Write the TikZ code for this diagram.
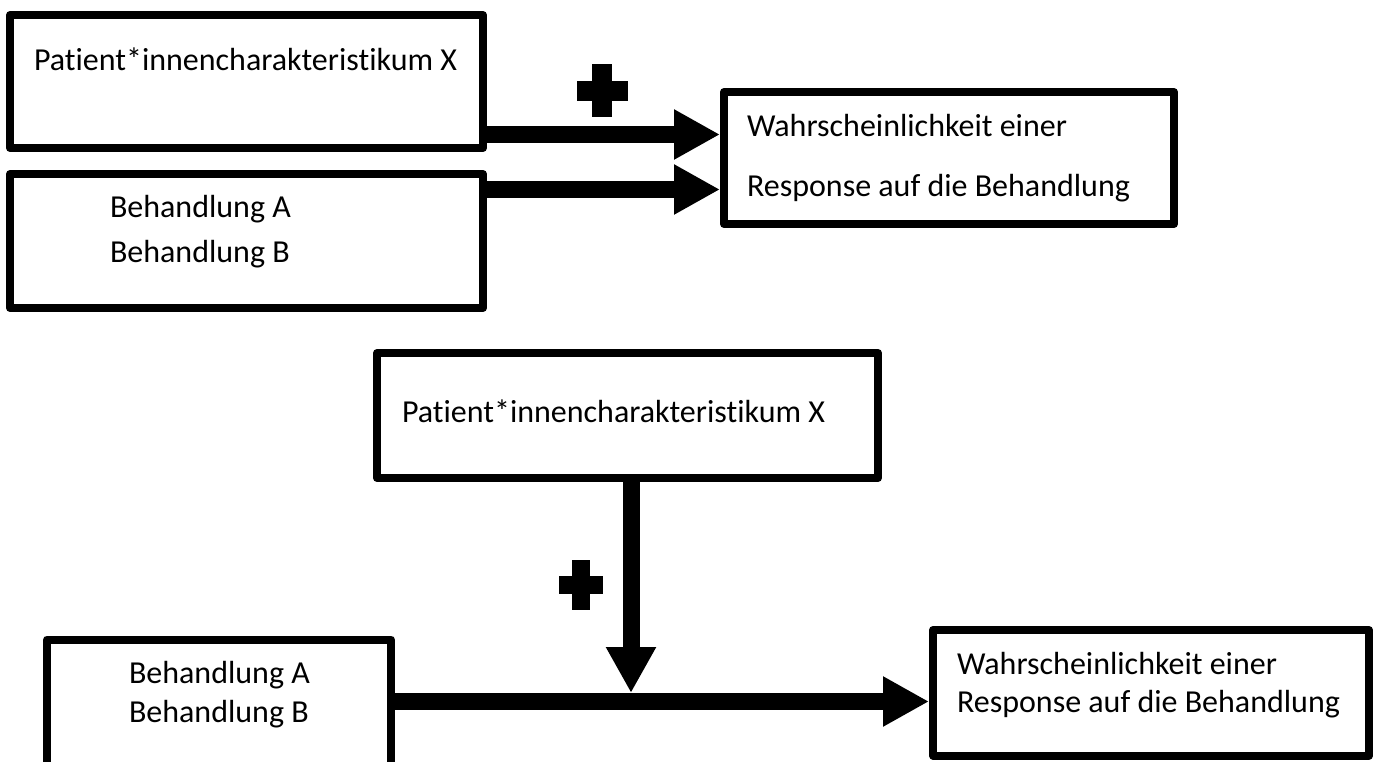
\documentclass[tikz,border=0pt]{standalone}
\usepackage{fontspec}
\setmainfont{Carlito}[Ligatures=NoCommon]
\usetikzlibrary{arrows.meta}
\begin{document}
\begin{tikzpicture}[x=0.75pt,y=-0.75pt,
  box/.style={draw=black, fill=white, line width=6pt, line join=round,
    rectangle, inner sep=0pt, outer sep=3pt},
  txt/.style={anchor=base west, inner sep=0pt, outer sep=0pt,
    font=\fontsize{24pt}{28pt}\selectfont},
  conn/.style={line width=12.75pt, -{Triangle[width=35.25pt,length=34.5pt]}},
  plusmark/.style={fill=black}]

\useasboundingbox (0,0) rectangle (1377,762);
\clip (0,0) rectangle (1377,762);

% ---------- upper model: two separate effects ----------
\node[box, minimum width=354.75pt, minimum height=99.75pt] (charA) at (246.5,81.5) {};
\node[box, minimum width=354.75pt, minimum height=100.5pt] (treatA) at (246.5,241) {};
\node[box, minimum width=337.5pt, minimum height=99pt] (respA) at (949,158) {};

\node[txt] (charAtxt) at (34,71) {Patient*innencharakteristikum X};
\node[txt] (treatAa) at (110,218) {Behandlung A};
\node[txt] (treatAb) at (110,263) {Behandlung B};
\node[txt] (respAa) at (747,137) {Wahrscheinlichkeit einer};
\node[txt] (respAb) at (747,197) {Response auf die Behandlung};

\coordinate (rowA1) at (0,134.5);
\coordinate (rowA2) at (0,189.5);
\draw[conn] (charA.east |- rowA1) -- (respA.west |- rowA1);
\draw[conn] (treatA.east |- rowA2) -- (respA.west |- rowA2);

% plus sign above the upper arrows
\fill[plusmark] (592,64) rectangle (612,117);
\fill[plusmark] (577,81) rectangle (628,101);

% ---------- lower model: moderation ----------
\node[box, minimum width=375.75pt, minimum height=93.75pt] (charB) at (627.5,415.5) {};
\node[box, minimum width=258pt, minimum height=112.875pt] (treatB) at (219,714.75) {};
\node[box, minimum width=327pt, minimum height=94.125pt] (respB) at (1151,692.75) {};

\node[txt] (charBtxt) at (402,423) {Patient*innencharakteristikum X};
\node[txt] (treatBa) at (129,683) {Behandlung A};
\node[txt] (treatBb) at (129,722) {Behandlung B};
\node[txt] (respBa) at (957,674) {Wahrscheinlichkeit einer};
\node[txt] (respBb) at (957,712) {Response auf die Behandlung};

\coordinate (rowB) at (0,701.5);
\coordinate (join) at (631,693);
\draw[conn] (treatB.east |- rowB) -- (respB.west |- rowB);
\draw[conn] (charB.south -| join) -- (join);

% plus sign beside the moderating arrow
\fill[plusmark] (572,560) rectangle (590,610);
\fill[plusmark] (559,576) rectangle (603,594);
\end{tikzpicture}
\end{document}
